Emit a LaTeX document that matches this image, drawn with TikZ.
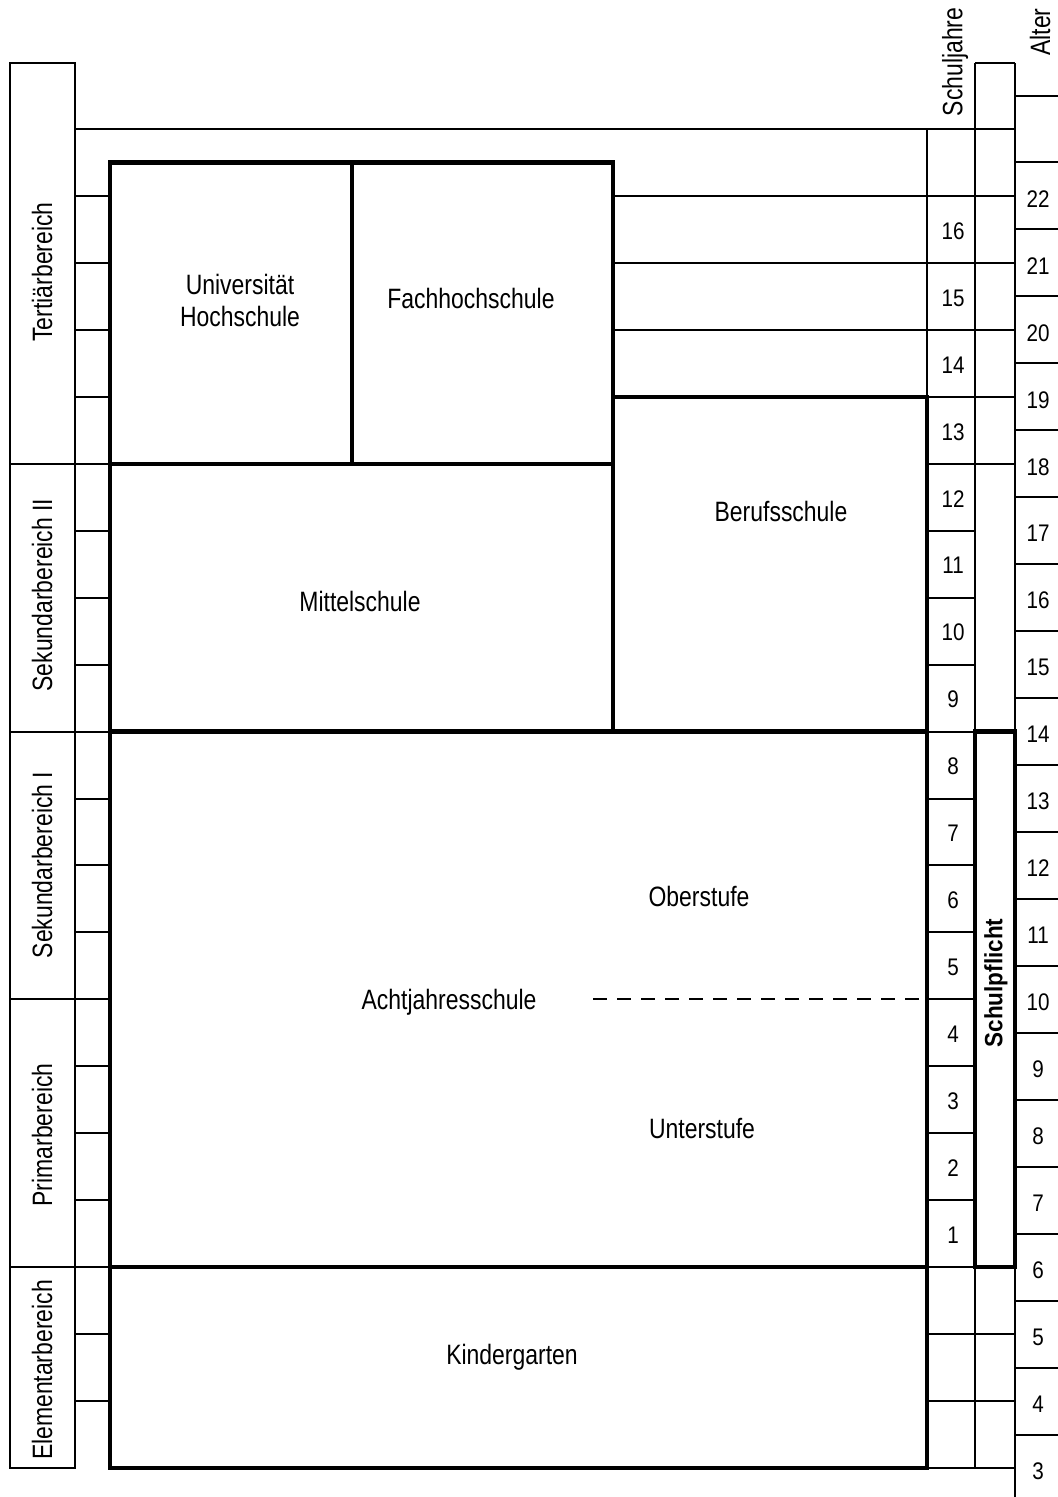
\documentclass[tikz,border=0pt]{standalone}
\usepackage{fontspec}
\setmainfont{Liberation Sans}[FakeStretch=0.82]
\newfontfamily\numfont{Liberation Sans}[FakeStretch=0.86]
\newfontfamily\pflichtfont{Liberation Sans}[FakeStretch=0.9]
\begin{document}
\begin{tikzpicture}[x=0.5pt,y=-0.5pt,
  thin rule/.style={line width=1pt},
  thick rule/.style={line width=2.1pt, line join=miter},
  label/.style={font=\fontsize{14}{17}\selectfont, align=center, inner sep=0pt},
  sidelabel/.style={label, rotate=90},
  num/.style={font=\numfont\fontsize{12}{14}\selectfont, inner sep=0pt},
  pflicht/.style={font=\pflichtfont\bfseries\fontsize{12.5}{14}\selectfont, inner sep=0pt, rotate=90}]
\useasboundingbox (0,0) rectangle (1058,1497);
% row grid: line k sits at y = 129 + 66.95 k
\def\rowy#1{129+66.95*#1}

% left column of levels
\draw[thin rule] (10,{\rowy{20}}) -- (10,63) -- (75,63) -- (75,{\rowy{20}}) -- cycle;
\foreach \k in {5,9,13,17}
  \draw[thin rule] (10,{\rowy{\k}}) -- (75,{\rowy{\k}});
% narrow column of year ticks
\foreach \k in {1,...,19}
  \draw[thin rule] (75,{\rowy{\k}}) -- (110,{\rowy{\k}});
% top rule
\draw[thin rule] (75,{\rowy{0}}) -- (1015,{\rowy{0}});
% year lines right of the Fachhochschule
\foreach \k in {1,2,3}
  \draw[thin rule] (613,{\rowy{\k}}) -- (927,{\rowy{\k}});
% Schuljahre column
\draw[thin rule] (927,{\rowy{0}}) -- (927,{\rowy{20}});
\draw[thin rule] (975,63) -- (1015,63);
\draw[thin rule] (975,63) -- (975,{\rowy{20}});
\draw[thin rule] (1015,63) -- (1015,1497);
\foreach \k in {1,...,20}
  \draw[thin rule] (927,{\rowy{\k}}) -- (975,{\rowy{\k}});
\foreach \k in {1,...,5,18,19,20}
  \draw[thin rule] (975,{\rowy{\k}}) -- (1015,{\rowy{\k}});
% Alter column
\foreach \k in {0,...,20}
  \draw[thin rule] (1015,{\rowy{\k}-33.475}) -- (1058,{\rowy{\k}-33.475});

% school boxes
\draw[thick rule] (110,{\rowy{0.5}}) rectangle (352,{\rowy{5}});
\draw[thick rule] (352,{\rowy{0.5}}) rectangle (613,{\rowy{5}});
\draw[thick rule] (110,{\rowy{5}}) rectangle (613,{\rowy{9}});
\draw[thick rule] (613,{\rowy{4}}) rectangle (927,{\rowy{9}});
\draw[thick rule] (110,{\rowy{9}}) rectangle (927,{\rowy{17}});
\draw[thick rule] (110,{\rowy{17}}) rectangle (927,{\rowy{20}});
\draw[thick rule] (975,{\rowy{9}}) rectangle (1015,{\rowy{17}});
\draw[line width=1pt, dash pattern=on 7pt off 5pt] (593,{\rowy{13}}) -- (927,{\rowy{13}});

% school names
\node[label] (uni) at (240,300) {Universität\\[-1pt]Hochschule};
\node[label] (fh) at (471,298) {Fachhochschule};
\node[label] (beruf) at (781,511) {Berufsschule};
\node[label] (mittel) at (360,601) {Mittelschule};
\node[label] (ober) at (699,896) {Oberstufe};
\node[label] (acht) at (449,1002) {Achtjahresschule};
\node[label] (unter) at (702,1128) {Unterstufe};
\node[label] (kinder) at (512,1357) {Kindergarten};

% level names
\node[sidelabel] (tert) at (42,272) {Tertiärbereich};
\node[sidelabel] (sek2) at (42,595) {Sekundarbereich II};
\node[sidelabel] (sek1) at (42,865) {Sekundarbereich I};
\node[sidelabel] (prim) at (42,1135) {Primarbereich};
\node[sidelabel] (elem) at (42,1370) {Elementarbereich};

% column heads
\node[sidelabel] (sj) at (955,62) {Schuljahre};
\node[sidelabel] (alter) at (1040,32) {Alter};
\node[pflicht] (pflicht) at (996,983) {Schulpflicht};

% school years
\foreach \k in {1,...,16}{
  \pgfmathtruncatemacro\n{17-\k}
  \node[num] (sj\n) at (953,{\rowy{\k}+35}) {\n};
}
% ages
\foreach \k in {1,...,20}{
  \pgfmathtruncatemacro\a{23-\k}
  \node[num] (age\a) at (1038,{\rowy{\k}+3}) {\a};
}
\end{tikzpicture}
\end{document}
